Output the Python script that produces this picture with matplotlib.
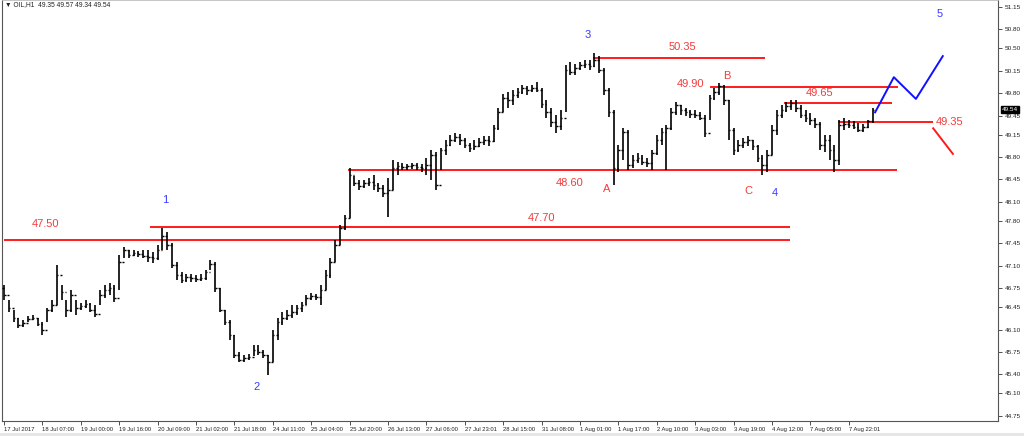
import matplotlib
matplotlib.use("Agg")
import matplotlib.pyplot as plt

# ---------------- data ----------------
tick_labels = ["17 Jul 2017", "18 Jul 07:00", "19 Jul 00:00", "19 Jul 16:00", "20 Jul 09:00",
               "21 Jul 02:00", "21 Jul 18:00", "24 Jul 11:00", "25 Jul 04:00", "25 Jul 20:00",
               "26 Jul 13:00", "27 Jul 06:00", "27 Jul 23:01", "28 Jul 15:00", "31 Jul 08:00",
               "1 Aug 01:00", "1 Aug 17:00", "2 Aug 10:00", "3 Aug 03:00", "3 Aug 19:00",
               "4 Aug 12:00", "7 Aug 05:00", "7 Aug 22:01"]

price_ticks = [51.15, 50.80, 50.50, 50.15, 49.80, 49.45, 49.15, 48.80, 48.45, 48.10,
               47.80, 47.45, 47.10, 46.75, 46.45, 46.10, 45.75, 45.40, 45.10, 44.75]

highs = [46.80, 46.56, 46.41, 46.28, 46.25, 46.31, 46.33, 46.28, 46.22, 46.44,
         46.56, 47.11, 46.80, 46.56, 46.72, 46.56, 46.52, 46.56, 46.52, 46.48,
         46.72, 46.80, 46.83, 46.80, 47.27, 47.39, 47.35, 47.35, 47.33, 47.35,
         47.35, 47.31, 47.42, 47.69, 47.63, 47.45, 47.16, 47.00, 46.97, 46.97,
         46.95, 46.97, 47.03, 47.19, 47.16, 46.75, 46.41, 46.25, 46.02, 45.75,
         45.70, 45.72, 45.86, 45.86, 45.78, 45.70, 46.09, 46.28, 46.38, 46.41,
         46.48, 46.48, 46.53, 46.64, 46.67, 46.66, 46.80, 47.03, 47.22, 47.50,
         47.74, 47.89, 48.63, 48.50, 48.44, 48.44, 48.47, 48.52, 48.39, 48.36,
         48.47, 48.75, 48.72, 48.71, 48.69, 48.71, 48.71, 48.69, 48.79, 48.91,
         48.88, 48.94, 49.07, 49.14, 49.18, 49.16, 49.10, 49.02, 49.07, 49.10,
         49.13, 49.13, 49.30, 49.57, 49.79, 49.82, 49.85, 49.88, 49.93, 49.91,
         49.93, 49.97, 49.88, 49.69, 49.57, 49.46, 49.54, 50.24, 50.29, 50.26,
         50.29, 50.32, 50.32, 50.43, 50.38, 50.19, 49.88, 49.54, 48.99, 49.25,
         49.22, 48.83, 48.86, 48.83, 48.79, 48.91, 49.14, 49.25, 49.30, 49.57,
         49.66, 49.61, 49.57, 49.54, 49.54, 49.50, 49.46, 49.77, 49.88, 49.96,
         49.93, 49.69, 49.25, 49.07, 49.10, 49.13, 49.07, 48.99, 48.83, 48.91,
         49.30, 49.54, 49.61, 49.66, 49.69, 49.69, 49.61, 49.54, 49.49, 49.41,
         49.35, 49.14, 49.14, 48.99, 49.38, 49.41, 49.38, 49.36, 49.33, 49.32,
         49.38, 49.57]

lows = [46.56, 46.38, 46.22, 46.12, 46.14, 46.22, 46.25, 46.16, 46.02, 46.22,
        46.38, 46.48, 46.56, 46.30, 46.38, 46.33, 46.41, 46.44, 46.38, 46.30,
        46.48, 46.59, 46.64, 46.53, 46.72, 47.22, 47.22, 47.25, 47.24, 47.22,
        47.16, 47.14, 47.19, 47.35, 47.35, 47.06, 46.88, 46.83, 46.85, 46.85,
        46.85, 46.86, 46.88, 47.03, 46.69, 46.38, 46.17, 45.94, 45.66, 45.59,
        45.59, 45.62, 45.69, 45.70, 45.66, 45.39, 45.59, 45.94, 46.17, 46.25,
        46.28, 46.33, 46.38, 46.48, 46.56, 46.56, 46.48, 46.72, 46.91, 47.16,
        47.42, 47.66, 47.85, 48.35, 48.28, 48.32, 48.35, 48.28, 48.25, 48.17,
        47.86, 48.28, 48.52, 48.60, 48.60, 48.61, 48.60, 48.57, 48.52, 48.44,
        48.28, 48.60, 48.83, 48.97, 49.04, 48.99, 48.94, 48.88, 48.91, 48.96,
        48.99, 48.97, 49.04, 49.22, 49.50, 49.57, 49.61, 49.72, 49.79, 49.77,
        49.82, 49.82, 49.57, 49.41, 49.27, 49.18, 49.22, 49.50, 50.08, 50.08,
        50.16, 50.19, 50.16, 50.21, 50.12, 49.77, 49.43, 48.36, 48.57, 48.75,
        48.60, 48.63, 48.71, 48.68, 48.64, 48.60, 48.83, 48.99, 48.60, 49.22,
        49.46, 49.46, 49.44, 49.41, 49.41, 49.38, 49.11, 49.38, 49.69, 49.77,
        49.61, 49.07, 48.83, 48.88, 48.94, 48.97, 48.91, 48.72, 48.52, 48.57,
        48.83, 49.14, 49.41, 49.50, 49.54, 49.50, 49.41, 49.35, 49.30, 49.25,
        48.91, 48.88, 48.75, 48.57, 48.68, 49.22, 49.25, 49.24, 49.19, 49.19,
        49.25, 49.34]

closes = [46.64, 46.44, 46.28, 46.17, 46.20, 46.27, 46.28, 46.19, 46.09, 46.41,
          46.48, 46.95, 46.69, 46.41, 46.64, 46.44, 46.47, 46.50, 46.41, 46.34,
          46.64, 46.72, 46.75, 46.59, 47.16, 47.35, 47.27, 47.30, 47.28, 47.25,
          47.24, 47.22, 47.35, 47.56, 47.42, 47.11, 46.95, 46.88, 46.92, 46.91,
          46.89, 46.91, 47.00, 47.13, 46.75, 46.41, 46.22, 46.02, 45.70, 45.62,
          45.66, 45.67, 45.78, 45.75, 45.70, 45.59, 46.02, 46.22, 46.28, 46.33,
          46.38, 46.44, 46.48, 46.59, 46.63, 46.61, 46.72, 46.95, 47.16, 47.42,
          47.69, 47.85, 48.52, 48.39, 48.35, 48.39, 48.41, 48.36, 48.32, 48.24,
          48.28, 48.63, 48.66, 48.64, 48.66, 48.68, 48.64, 48.63, 48.68, 48.83,
          48.36, 48.91, 48.99, 49.07, 49.11, 49.07, 48.99, 48.94, 48.97, 49.04,
          49.07, 49.05, 49.25, 49.50, 49.72, 49.69, 49.77, 49.82, 49.88, 49.85,
          49.88, 49.85, 49.63, 49.50, 49.35, 49.29, 49.41, 50.16, 50.13, 50.19,
          50.24, 50.26, 50.22, 50.32, 50.16, 49.85, 49.50, 48.63, 48.91, 49.19,
          48.68, 48.75, 48.79, 48.72, 48.71, 48.86, 49.07, 49.19, 49.25, 49.50,
          49.61, 49.54, 49.50, 49.47, 49.46, 49.41, 49.18, 49.72, 49.82, 49.91,
          49.69, 49.22, 48.91, 48.99, 49.04, 49.07, 48.97, 48.79, 48.68, 48.83,
          49.22, 49.46, 49.54, 49.60, 49.65, 49.57, 49.46, 49.41, 49.38, 49.32,
          48.99, 49.07, 48.91, 48.75, 49.30, 49.32, 49.30, 49.27, 49.22, 49.27,
          49.36, 49.54]
first_open = 46.75

# support / resistance levels
level_prices = [47.50, 47.70, 48.60, 50.35, 49.90, 49.65, 49.35]
level_starts = [0.0, 30.4, 71.7, 122.7, 147.2, 162.6, 173.8]
level_ends = [163.8, 163.8, 186.1, 158.6, 186.3, 185.0, 193.6]

# projected paths
blue_path_x = [181.5, 185.4, 190.0, 195.6]
blue_path_y = [49.50, 50.05, 49.71, 50.38]
red_path_x = [193.6, 197.7]
red_path_y = [49.25, 48.85]

# price labels and wave labels
red_labels = ["47.50", "47.70", "48.60", "50.35", "49.90", "49.65", "49.35", "A", "B", "C"]
red_label_x = [8.7, 112.0, 117.9, 141.4, 143.0, 170.0, 197.0, 125.6, 150.5, 155.1]
red_label_y = [47.75, 47.85, 48.39, 50.52, 49.94, 49.80, 49.35, 48.30, 50.07, 48.27]
blue_labels = ["1", "2", "3", "4", "5"]
blue_label_x = [33.5, 52.6, 121.6, 160.7, 195.0]
blue_label_y = [48.13, 45.20, 50.71, 48.24, 51.04]

# ---------------- figure ----------------
plt.rcParams['font.family'] = ['Liberation Sans', 'DejaVu Sans']
W, H = 1024, 436
fig = plt.figure(figsize=(W / 100, H / 100), dpi=100)
fig.patch.set_facecolor("white")
ax = fig.add_axes([2 / W, 15 / H, 996 / W, 421 / H])
ax.set_facecolor("white")

n = len(closes)
xs = list(range(n))
opens = [first_open] + closes[:-1]

ax.vlines(xs, lows, highs, color="black", linewidth=1.2, zorder=3)
ax.hlines(opens, [x - 0.35 for x in xs], xs, color="black", linewidth=1.0, zorder=3)
ax.hlines(closes, xs, [x + 0.35 for x in xs], color="black", linewidth=1.0, zorder=3)

red = "#FF1A1A"
for p, s, e in zip(level_prices, level_starts, level_ends):
    ax.plot([s, e], [p, p], color=red, linewidth=1.4, zorder=2, solid_capstyle="butt")

ax.plot(blue_path_x, blue_path_y, color="#1010FF", linewidth=1.4, zorder=4)
ax.plot(red_path_x, red_path_y, color=red, linewidth=1.4, zorder=4)

for t, x, y in zip(red_labels, red_label_x, red_label_y):
    ax.text(x, y, t, color="#F23C3C", fontsize=8, ha="center", va="center", zorder=5)
for t, x, y in zip(blue_labels, blue_label_x, blue_label_y):
    ax.text(x, y, t, color="#3A3AFF", fontsize=8, ha="center", va="center", zorder=5)

ax.set_xlim(-0.4, 207.1)
ax.set_ylim(44.669, 51.258)

# x axis
ax.set_xticks([8 * k for k in range(len(tick_labels))])
ax.set_xticklabels(tick_labels)
ax.tick_params(axis="x", direction="out", length=3, width=0.6, pad=1,
               labelsize=4.2, labelcolor="#222222", color="#333333")
for lab in ax.get_xticklabels():
    lab.set_ha("left")

# y axis on right
ax.yaxis.tick_right()
ax.set_yticks(price_ticks)
ax.set_yticklabels([f"{v:.2f}" for v in price_ticks])
ax.tick_params(axis="y", direction="out", length=3, width=0.6, pad=2,
               labelsize=4.6, labelcolor="#222222", color="#333333")

for side in ["left", "bottom", "right"]:
    ax.spines[side].set_color("#555555")
    ax.spines[side].set_linewidth(0.8)
ax.spines["top"].set_color("#BBBBBB")
ax.spines["top"].set_linewidth(0.6)

# current price box
ax.annotate(f"{closes[-1]:.2f}", xy=(1.0, closes[-1]), xycoords=("axes fraction", "data"),
            xytext=(3, 0), textcoords="offset points", fontsize=4.6, color="white",
            ha="left", va="center",
            bbox=dict(boxstyle="square,pad=0.15", fc="black", ec="black"), zorder=6)

# header
fig.text(5 / W, 1 - 5 / H, "\u25BC OIL,H1  49.35 49.57 49.34 49.54", fontsize=4.8,
         color="#222222", ha="left", va="center",
         family=["Liberation Sans", "DejaVu Sans"])

# bottom scrollbar strip
fig.patches.append(plt.Rectangle((0, 0), 1, 3 / H, transform=fig.transFigure,
                                 fc="#E6E6E6", ec="none"))

fig.savefig("out.png", dpi=100, facecolor="white")
